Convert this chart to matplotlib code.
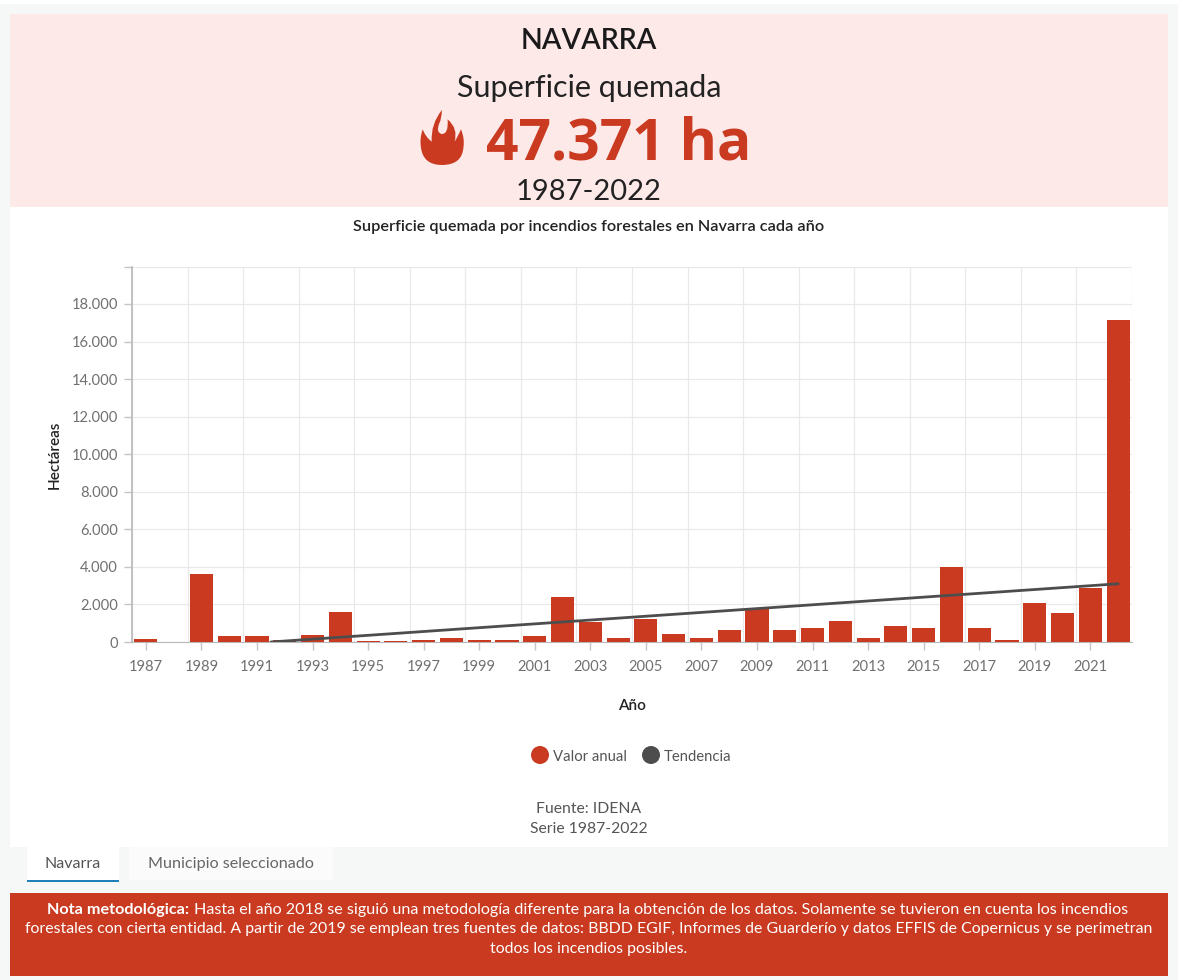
import matplotlib
matplotlib.use("Agg")
import matplotlib.pyplot as plt
from matplotlib.patches import Rectangle, PathPatch, Circle
from matplotlib.path import Path

plt.rcParams['font.family'] = ['Lato', 'DejaVu Sans']

years = list(range(1987, 2023))
valor_anual = [140, 20, 3620, 320, 320, 100, 370, 1610, 30, 30, 90, 190, 80, 130, 310,
               2370, 1080, 190, 1200, 420, 190, 650, 1830, 650, 720, 1140, 190, 830,
               720, 3980, 720, 130, 2080, 1560, 2900, 17150]
trend_years = [1991.5, 2022]
trend_values = [0, 3100]
y_ticks = [0, 2000, 4000, 6000, 8000, 10000, 12000, 14000, 16000, 18000, 20000]
x_ticks = list(range(1987, 2022, 2))

RED = '#c93a20'
PINK = '#fee9e9'
GRID = '#e9e9e9'
W, H = 1178, 980
YMAX = 19970

fig = plt.figure(figsize=(W / 100, H / 100), dpi=100, facecolor='#f6f8f7')

bg = fig.add_axes([0, 0, 1, 1], zorder=0)
bg.set_xlim(0, W); bg.set_ylim(H, 0); bg.axis('off')
bg.add_patch(Rectangle((0, 0), W, 4, fc='white', ec='none'))
bg.add_patch(Rectangle((10, 14), 1158, 833, fc='white', ec='none'))
bg.add_patch(Rectangle((10, 14), 1158, 193, fc=PINK, ec='none'))
bg.add_patch(Rectangle((10, 893), 1158, 83, fc=RED, ec='none'))
bg.add_patch(Rectangle((27, 847), 92, 34, fc='white', ec='none'))
bg.add_patch(Rectangle((129, 847), 204, 33, fc='#fbfbfb', ec='none'))
bg.add_patch(Rectangle((27, 880), 92, 2, fc='#1f7fb8', ec='none'))

# flame icon (decoration, in crop-space units)
start = (100, 30)
pieces = [((65, 72), (68, 125)), ((48, 110), (40, 88)), ((30, 115), (34, 140)),
          ((40, 195), (100, 195)), ((165, 195), (168, 140)), ((172, 115), (160, 88)),
          ((150, 110), (140, 125)), ((152, 85), (118, 58)), ((122, 102), (100, 102)),
          ((80, 98), (92, 70)), ((100, 55), (100, 30))]
verts = [start]; codes = [Path.MOVETO]
for c, e in pieces:
    verts += [c, e]; codes += [Path.CURVE3, Path.CURVE3]
verts = [(410 + x / 3.14, 100 + y / 3.0) for x, y in verts]
bg.add_patch(PathPatch(Path(verts, codes), fc=RED, ec='none'))

bg.text(589, 41, 'NAVARRA', ha='center', va='center', fontsize=20.5, color='#1a1a1a', fontweight='semibold')
bg.text(589, 88, 'Superficie quemada', ha='center', va='center', fontsize=22, color='#222222')
bg.text(619, 144, '47.371 ha', ha='center', va='center', fontsize=41, color=RED, fontweight='bold', family=['Open Sans', 'DejaVu Sans'])
bg.text(589, 192, '1987-2022', ha='center', va='center', fontsize=21, color='#222222')
bg.text(589, 227, 'Superficie quemada por incendios forestales en Navarra cada año', ha='center', va='center',
        fontsize=11.7, color='#222222', fontweight='semibold')
bg.text(589, 809, 'Fuente: IDENA', ha='center', va='center', fontsize=11.3, color='#555555')
bg.text(589, 829, 'Serie 1987-2022', ha='center', va='center', fontsize=11.3, color='#555555')
bg.text(73, 864, 'Navarra', ha='center', va='center', fontsize=11.5, color='#555555')
bg.text(231, 864, 'Municipio seleccionado', ha='center', va='center', fontsize=11.6, color='#666666')

bg.add_patch(Circle((540, 755), 9, fc=RED, ec='none'))
bg.text(553, 757, 'Valor anual', ha='left', va='center', fontsize=10.7, color='#555555')
bg.add_patch(Circle((651, 755), 9, fc='#4d4d4d', ec='none'))
bg.text(664, 757, 'Tendencia', ha='left', va='center', fontsize=10.7, color='#555555')

bg.text(47, 910, 'Nota metodológica:', ha='left', va='center', fontsize=11.7, color='white', fontweight='bold')
bg.text(194, 910, 'Hasta el año 2018 se siguió una metodología diferente para la obtención de los datos. Solamente se tuvieron en cuenta los incendios',
        ha='left', va='center', fontsize=11.62, color='white')
bg.text(589, 929, 'forestales con cierta entidad. A partir de 2019 se emplean tres fuentes de datos: BBDD EGIF, Informes de Guarderío y datos EFFIS de Copernicus y se perimetran',
        ha='center', va='center', fontsize=11.4, color='white')
bg.text(589, 949, 'todos los incendios posibles.', ha='center', va='center', fontsize=11.4, color='white')

# chart
L, R, T, B = 132, 1132, 267, 642
ax = fig.add_axes([L / W, 1 - B / H, (R - L) / W, (B - T) / H], zorder=1)
ax.patch.set_alpha(0)
ax.set_xlim(1986.5, 2022.5)
ax.set_ylim(0, YMAX)
ax.bar(years, valor_anual, width=0.83, color=RED, zorder=3)
ax.plot(trend_years, trend_values, color='#4d4d4d', lw=2, zorder=4, solid_capstyle='round')

ax.set_yticks([v for v in y_ticks if v <= YMAX] + [YMAX])
ax.set_yticklabels([f'{v:,}'.replace(',', '.') for v in y_ticks if v <= YMAX] + [''])
ax.set_xticks(x_ticks)
ax.set_xticklabels([str(v) for v in x_ticks])
ax.tick_params(axis='y', length=6, color='#c4c4c4', width=1, labelsize=10.6, labelcolor='#707070', pad=4)
ax.tick_params(axis='x', length=6, color='#c4c4c4', width=1, labelsize=10.6, labelcolor='#707070', pad=7)
ax.yaxis.grid(True, color=GRID, lw=0.9, zorder=0)
ax.xaxis.grid(False)
ax.set_axisbelow(True)
for yr in x_ticks:
    ax.axvline(yr - 0.5, color=GRID, lw=0.9, zorder=0)
ax.axvline(2022.5, color=GRID, lw=0.9, zorder=0)
for s in ['top', 'right']:
    ax.spines[s].set_visible(False)
ax.spines['left'].set_color('#b8b8b8')
ax.spines['bottom'].set_color('#b8b8b8')
ax.spines['left'].set_linewidth(1.2)
ax.set_ylabel('Hectáreas', fontsize=11, fontweight='semibold', color='#222222', labelpad=7)
ax.set_xlabel('Año', fontsize=11, fontweight='semibold', color='#222222', labelpad=18)

fig.savefig('out.png', dpi=100, facecolor=fig.get_facecolor())
